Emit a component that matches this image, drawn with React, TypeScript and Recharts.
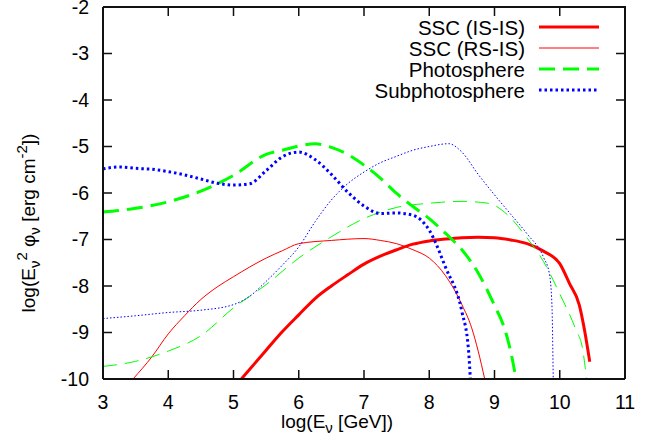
import { Legend, Line, LineChart, XAxis, YAxis } from 'recharts';

// log(E) ticks and log(E^2 phi) ticks
const xTicks = [3, 4, 5, 6, 7, 8, 9, 10, 11];
const yTicks = [-10, -9, -8, -7, -6, -5, -4, -3, -2];

// SSC (IS-IS), thick red
const sscIsIs = [
  { x: 5.12, y: -10 }, { x: 5.5, y: -9.38 }, { x: 5.75, y: -8.98 }, { x: 6, y: -8.62 },
  { x: 6.25, y: -8.27 }, { x: 6.5, y: -8.0 }, { x: 6.75, y: -7.76 }, { x: 7, y: -7.53 },
  { x: 7.25, y: -7.36 }, { x: 7.5, y: -7.22 }, { x: 7.75, y: -7.1 }, { x: 8, y: -7.03 },
  { x: 8.25, y: -6.99 }, { x: 8.5, y: -6.96 }, { x: 8.75, y: -6.95 }, { x: 9, y: -6.96 },
  { x: 9.25, y: -7.01 }, { x: 9.5, y: -7.09 }, { x: 9.75, y: -7.25 }, { x: 10, y: -7.52 },
  { x: 10.15, y: -7.95 }, { x: 10.3, y: -8.41 }, { x: 10.38, y: -8.95 }, { x: 10.46, y: -9.63 },
];

// SSC (RS-IS), thin red
const sscRsIs = [
  { x: 3.46, y: -10 }, { x: 3.75, y: -9.52 }, { x: 4, y: -9.03 }, { x: 4.25, y: -8.64 },
  { x: 4.5, y: -8.29 }, { x: 4.75, y: -8.02 }, { x: 5, y: -7.8 }, { x: 5.25, y: -7.59 },
  { x: 5.5, y: -7.4 }, { x: 5.75, y: -7.24 }, { x: 6, y: -7.09 }, { x: 6.5, y: -7.02 },
  { x: 7, y: -6.98 }, { x: 7.25, y: -7.02 }, { x: 7.5, y: -7.09 }, { x: 7.75, y: -7.22 },
  { x: 8, y: -7.4 }, { x: 8.25, y: -7.78 }, { x: 8.5, y: -8.4 }, { x: 8.65, y: -8.9 },
  { x: 8.75, y: -9.4 }, { x: 8.85, y: -10 },
];

// Photosphere, thick green dashed
const photoIsIs = [
  { x: 3, y: -6.41 }, { x: 3.5, y: -6.33 }, { x: 4, y: -6.19 }, { x: 4.5, y: -5.96 },
  { x: 5, y: -5.62 }, { x: 5.5, y: -5.17 }, { x: 5.75, y: -5.08 }, { x: 6, y: -4.99 },
  { x: 6.25, y: -4.94 }, { x: 6.5, y: -5.02 }, { x: 6.75, y: -5.17 }, { x: 7, y: -5.4 },
  { x: 7.25, y: -5.68 }, { x: 7.5, y: -6.01 }, { x: 7.75, y: -6.29 }, { x: 8, y: -6.55 },
  { x: 8.25, y: -6.87 }, { x: 8.5, y: -7.22 }, { x: 8.75, y: -7.72 }, { x: 9, y: -8.42 },
  { x: 9.15, y: -8.9 }, { x: 9.25, y: -9.42 }, { x: 9.33, y: -10 },
];

// Photosphere (RS-IS), thin green dashed
const photoRsIs = [
  { x: 3, y: -9.73 }, { x: 3.5, y: -9.62 }, { x: 4, y: -9.4 }, { x: 4.5, y: -9.07 },
  { x: 5, y: -8.47 }, { x: 5.5, y: -7.97 }, { x: 6, y: -7.4 }, { x: 6.5, y: -6.94 },
  { x: 7, y: -6.55 }, { x: 7.5, y: -6.31 }, { x: 8, y: -6.22 }, { x: 8.5, y: -6.18 },
  { x: 8.9, y: -6.22 }, { x: 9.2, y: -6.47 }, { x: 9.5, y: -6.97 }, { x: 9.75, y: -7.47 },
  { x: 10, y: -8.17 }, { x: 10.25, y: -8.95 }, { x: 10.35, y: -9.35 }, { x: 10.41, y: -10 },
];

// Subphotosphere, thick blue dotted
const subIsIs = [
  { x: 3, y: -5.48 }, { x: 3.25, y: -5.44 }, { x: 3.5, y: -5.47 }, { x: 3.75, y: -5.49 },
  { x: 4, y: -5.54 }, { x: 4.25, y: -5.61 }, { x: 4.5, y: -5.7 }, { x: 4.75, y: -5.79 },
  { x: 5, y: -5.83 }, { x: 5.25, y: -5.8 }, { x: 5.5, y: -5.52 }, { x: 5.75, y: -5.22 },
  { x: 6, y: -5.12 }, { x: 6.25, y: -5.28 }, { x: 6.5, y: -5.6 }, { x: 6.75, y: -5.98 },
  { x: 7, y: -6.28 }, { x: 7.25, y: -6.44 }, { x: 7.5, y: -6.43 }, { x: 7.75, y: -6.48 },
  { x: 8, y: -6.8 }, { x: 8.25, y: -7.6 }, { x: 8.5, y: -8.55 }, { x: 8.6, y: -9.35 },
  { x: 8.63, y: -10 },
];

// Subphotosphere (RS-IS), thin blue dotted
const subRsIs = [
  { x: 3, y: -8.7 }, { x: 3.5, y: -8.64 }, { x: 4, y: -8.57 }, { x: 4.5, y: -8.52 },
  { x: 5, y: -8.4 }, { x: 5.25, y: -8.22 }, { x: 5.5, y: -7.9 }, { x: 5.75, y: -7.55 },
  { x: 6, y: -7.16 }, { x: 6.25, y: -6.62 }, { x: 6.5, y: -6.15 }, { x: 6.75, y: -5.8 },
  { x: 7, y: -5.55 }, { x: 7.25, y: -5.35 }, { x: 7.5, y: -5.21 }, { x: 7.75, y: -5.08 },
  { x: 8, y: -5.0 }, { x: 8.3, y: -4.94 }, { x: 8.5, y: -5.12 }, { x: 8.75, y: -5.6 },
  { x: 9, y: -6.04 }, { x: 9.25, y: -6.46 }, { x: 9.5, y: -6.88 }, { x: 9.75, y: -7.38 },
  { x: 9.84, y: -7.73 }, { x: 9.88, y: -8.4 }, { x: 9.9, y: -10 },
];

const series = [
  { name: 'SSC (IS-IS)', data: sscIsIs, color: '#ff0000', width: 3, dash: undefined, legend: true },
  { name: 'SSC (RS-IS)', data: sscRsIs, color: '#ff0000', width: 1, dash: undefined, legend: true },
  { name: 'Photosphere', data: photoIsIs, color: '#00ff00', width: 3, dash: '16 8', legend: true },
  { name: 'Photosphere (RS-IS)', data: photoRsIs, color: '#00ff00', width: 1, dash: '14 8', legend: false },
  { name: 'Subphotosphere', data: subIsIs, color: '#0000ff', width: 3, dash: '2.5 3', legend: true },
  { name: 'Subphotosphere (RS-IS)', data: subRsIs, color: '#0000ff', width: 1, dash: '1.5 2', legend: false },
];

const CHART_W = 667;
const CHART_H = 445;
const MARGIN = { top: 7, right: 42, bottom: 0, left: 0 };
const Y_AXIS_W = 103;
const X_AXIS_H = 66;
const xMin = xTicks[0];
const xMax = xTicks[xTicks.length - 1];
const yMin = yTicks[0];
const yMax = yTicks[yTicks.length - 1];

// 9px inward tick marks, converted to data units of each axis
const plotW = CHART_W - MARGIN.left - MARGIN.right - Y_AXIS_W;
const plotH = CHART_H - MARGIN.top - MARGIN.bottom - X_AXIS_H;
const tickDx = (9 * (xMax - xMin)) / plotW;
const tickDy = (9 * (yMax - yMin)) / plotH;

// border (top + right) and tick marks, drawn as gapped series
const borderTR = [{ x: xMin, y: yMax }, { x: xMax, y: yMax }, { x: xMax, y: yMin }];
const xTickMarks = [
  ...xTicks.flatMap((t) => [{ x: t, y: yMin }, { x: t, y: yMin + tickDy }, { x: t, y: null }]),
  ...xTicks.flatMap((t) => [{ x: t, y: yMax }, { x: t, y: yMax - tickDy }, { x: t, y: null }]),
];
const yTickMarks = [
  ...yTicks.flatMap((t) => [{ x: xMin, y: t }, { x: xMin + tickDx, y: t }, { x: xMin + tickDx, y: null }]),
  ...yTicks.flatMap((t) => [{ x: xMax - tickDx, y: t }, { x: xMax, y: t }, { x: xMax, y: null }]),
];

const ink = '#111111';
const font = '"Liberation Sans", Arial, Helvetica, sans-serif';
const tickFont = 19.5;

function BottomLabel({ x, y, payload }: any) {
  return (
    <text x={x} y={y} dy="0.71em" textAnchor="middle" fontSize={tickFont} fontFamily={font} fill="#000">
      {payload.value}
    </text>
  );
}

function LeftLabel({ x, y, payload }: any) {
  return (
    <text x={x} y={y} dy="0.355em" textAnchor="end" fontSize={tickFont} fontFamily={font} fill="#000">
      {payload.value}
    </text>
  );
}

function XTitle({ viewBox }: any) {
  const cx = viewBox.x + 234;
  const by = viewBox.y + 49;
  return (
    <text x={cx} y={by} textAnchor="middle" fontSize={19} fontFamily={font} fill="#000">
      log(E<tspan dy={5} fontSize={15}>ν</tspan>
      <tspan dy={-5}> [GeV])</tspan>
    </text>
  );
}

function YTitle({ viewBox }: any) {
  const cx = viewBox.x + 35;
  const cy = viewBox.y + 216;
  return (
    <text x={cx} y={cy} transform={`rotate(-90, ${cx}, ${cy})`} textAnchor="middle" fontSize={19} fontFamily={font} fill="#000">
      log(E<tspan dy={5} fontSize={15}>ν</tspan>
      <tspan dy={-13} fontSize={15}>2</tspan>
      <tspan dy={8}> φ</tspan>
      <tspan dy={5} fontSize={15}>ν</tspan>
      <tspan dy={-5}> [erg cm</tspan>
      <tspan dy={-8} fontSize={15}>-2</tspan>
      <tspan dy={8}>])</tspan>
    </text>
  );
}

function LegendBox() {
  return (
    <div style={{ fontFamily: font, fontSize: 20.5, color: '#000' }}>
      {series.filter((s) => s.legend).map((s) => (
        <div key={s.name} style={{ display: 'flex', justifyContent: 'flex-end', alignItems: 'center', height: 21, lineHeight: '21px' }}>
          <span style={{ whiteSpace: 'nowrap' }}>{s.name}</span>
          <svg width={60} height={21} style={{ marginLeft: 14, display: 'block' }}>
            <line x1={0} x2={60} y1={10} y2={10} stroke={s.color} strokeWidth={s.width} strokeDasharray={s.dash} />
          </svg>
        </div>
      ))}
    </div>
  );
}

export default function App() {
  return (
    <div style={{ position: 'absolute', left: 0, top: 0, width: CHART_W, height: CHART_H, background: '#fff' }}>
      <LineChart width={CHART_W} height={CHART_H} margin={MARGIN}>
        <XAxis
          type="number"
          dataKey="x"
          domain={[xMin, xMax]}
          ticks={xTicks}
          interval={0}
          height={X_AXIS_H}
          tickSize={0}
          tickMargin={16}
          tickLine={false}
          axisLine={{ stroke: ink, strokeWidth: 2 }}
          tick={<BottomLabel />}
          label={<XTitle />}
        />
        <YAxis
          type="number"
          domain={[yMin, yMax]}
          ticks={yTicks}
          interval={0}
          width={Y_AXIS_W}
          tickSize={0}
          tickMargin={14}
          tickLine={false}
          axisLine={{ stroke: ink, strokeWidth: 2 }}
          tick={<LeftLabel />}
          label={<YTitle />}
        />
        <Legend
          layout="horizontal"
          verticalAlign="middle"
          align="center"
          wrapperStyle={{ top: 17, left: 0, width: 599, height: 84 }}
          content={() => <LegendBox />}
        />
        <Line data={borderTR} dataKey="y" type="linear" stroke={ink} strokeWidth={2} dot={false} activeDot={false}
          legendType="none" isAnimationActive={false} />
        <Line data={xTickMarks} dataKey="y" type="linear" stroke={ink} strokeWidth={1.5} dot={false} activeDot={false}
          legendType="none" isAnimationActive={false} />
        <Line data={yTickMarks} dataKey="y" type="linear" stroke={ink} strokeWidth={1.5} dot={false} activeDot={false}
          legendType="none" isAnimationActive={false} />
        {series.map((s) => (
          <Line
            key={s.name}
            data={s.data}
            dataKey="y"
            name={s.name}
            type="monotone"
            stroke={s.color}
            strokeWidth={s.width}
            strokeDasharray={s.dash}
            dot={false}
            activeDot={false}
            legendType={s.legend ? 'line' : 'none'}
            isAnimationActive={false}
          />
        ))}
      </LineChart>
    </div>
  );
}
